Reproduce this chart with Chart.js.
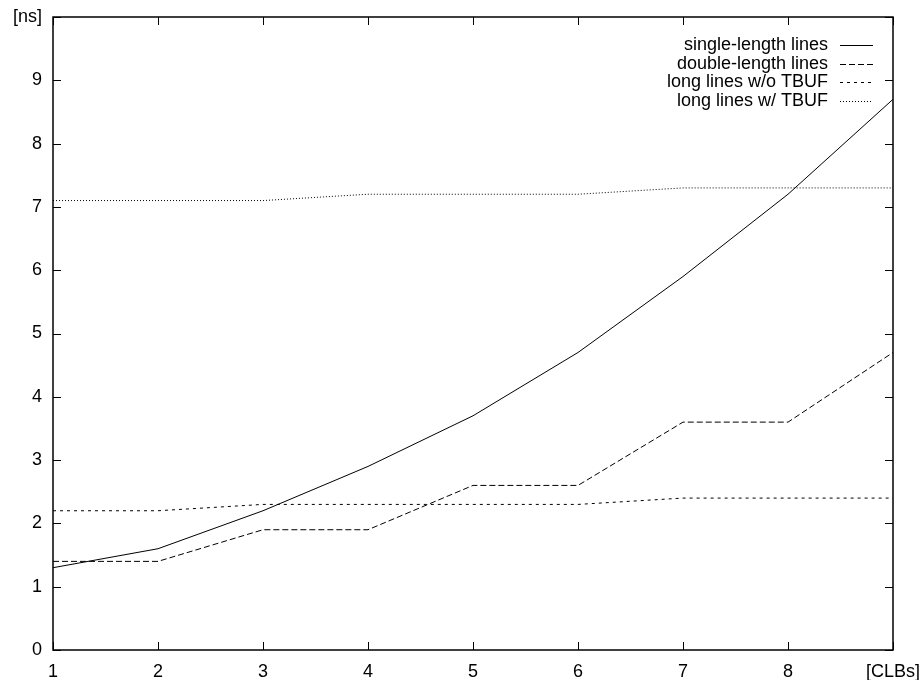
<!DOCTYPE html>
<html>
<head>
<meta charset="utf-8">
<script src="https://cdn.jsdelivr.net/npm/chart.js@4"></script>
<style>
  html, body { margin: 0; padding: 0; background: #fff; }
  #wrap { width: 922px; height: 680px; }
</style>
</head>
<body>
<div id="wrap"><canvas id="chart" width="922" height="680"></canvas></div>
<script>
// x = number of CLBs, y = delay in ns
const clbs = [1, 2, 3, 4, 5, 6, 7, 8, 9];
const singleLength = [1.3, 1.6, 2.2, 2.9, 3.7, 4.7, 5.9, 7.2, 8.7];
const doubleLength = [1.4, 1.4, 1.9, 1.9, 2.6, 2.6, 3.6, 3.6, 4.7];
const longNoTbuf = [2.2, 2.2, 2.3, 2.3, 2.3, 2.3, 2.4, 2.4, 2.4];
const longTbuf = [7.1, 7.1, 7.1, 7.2, 7.2, 7.2, 7.3, 7.3, 7.3];
const seriesNames = ['single-length lines', 'double-length lines', 'long lines w/o TBUF', 'long lines w/ TBUF'];
const xTickLabels = ['1', '2', '3', '4', '5', '6', '7', '8', '[CLBs]'];
const yTickLabels = ['0', '1', '2', '3', '4', '5', '6', '7', '8', '9', '[ns]'];

const FONT = '"Liberation Sans", Arial, Helvetica, sans-serif';
const dashes = [[], [6, 3], [3, 4], [1, 2]];

function pts(vals) {
  return vals.map((v, i) => ({ x: clbs[i], y: v }));
}

// gnuplot style frame with inward ticks on all four sides
const framePlugin = {
  id: 'frame',
  afterDraw(chart) {
    const c = chart.ctx;
    const a = chart.chartArea;
    const xs = chart.scales.x, ys = chart.scales.y;
    const tl = 8;
    c.save();
    c.strokeStyle = '#000';
    c.lineWidth = 1;
    c.beginPath();
    xs.ticks.forEach(t => {
      const px = Math.round(xs.getPixelForValue(t.value)) + 0.5;
      c.moveTo(px, a.bottom); c.lineTo(px, a.bottom - tl);
      c.moveTo(px, a.top); c.lineTo(px, a.top + tl);
    });
    ys.ticks.forEach(t => {
      const py = Math.round(ys.getPixelForValue(t.value)) + 0.5;
      c.moveTo(a.left, py); c.lineTo(a.left + tl, py);
      c.moveTo(a.right, py); c.lineTo(a.right - tl, py);
    });
    c.stroke();
    c.lineWidth = 1.5;
    c.strokeRect(a.left, a.top, a.right - a.left, a.bottom - a.top);
    c.restore();
  }
};

// legend: right-aligned text followed by a line sample
const keyPlugin = {
  id: 'key',
  afterDraw(chart) {
    const c = chart.ctx;
    const a = chart.chartArea;
    c.save();
    c.font = '18px ' + FONT;
    c.fillStyle = '#000';
    c.textAlign = 'right';
    c.textBaseline = 'middle';
    chart.data.datasets.forEach((ds, i) => {
      const y = a.top + 28 + i * 18.7;
      c.fillText(ds.label, a.right - 65, y);
      c.strokeStyle = '#000';
      c.lineWidth = 1;
      c.setLineDash(ds.borderDash || []);
      c.beginPath();
      c.moveTo(a.right - 53, Math.round(y) + 0.5);
      c.lineTo(a.right - 20, Math.round(y) + 0.5);
      c.stroke();
    });
    c.restore();
  }
};

const datasets = [singleLength, doubleLength, longNoTbuf, longTbuf].map((vals, i) => ({
  label: seriesNames[i],
  data: pts(vals),
  borderColor: '#000',
  borderWidth: 1,
  borderDash: dashes[i],
  pointRadius: 0,
  fill: false,
  tension: 0
}));

new Chart(document.getElementById('chart'), {
  type: 'line',
  data: { datasets },
  options: {
    responsive: false,
    animation: false,
    layout: { padding: { top: 17, right: 29, left: 0, bottom: 0 } },
    plugins: { legend: { display: false }, tooltip: { enabled: false } },
    scales: {
      x: {
        type: 'linear',
        min: 1, max: 9,
        grid: { display: false, drawTicks: false },
        border: { display: false },
        ticks: {
          stepSize: 1,
          color: '#000',
          font: { family: FONT, size: 18 },
          padding: 11,
          maxRotation: 0,
          callback: v => xTickLabels[v - 1]
        },
        afterFit: s => { s.height = 30; s.paddingLeft = 0; s.paddingRight = 0; }
      },
      y: {
        min: 0, max: 10,
        grid: { display: false, drawTicks: false },
        border: { display: false },
        ticks: {
          stepSize: 1,
          color: '#000',
          font: { family: FONT, size: 18 },
          padding: 11,
          callback: v => yTickLabels[v]
        },
        afterFit: s => { s.width = 53; s.paddingTop = 0; s.paddingBottom = 0; }
      }
    }
  },
  plugins: [framePlugin, keyPlugin]
});
</script>
</body>
</html>
